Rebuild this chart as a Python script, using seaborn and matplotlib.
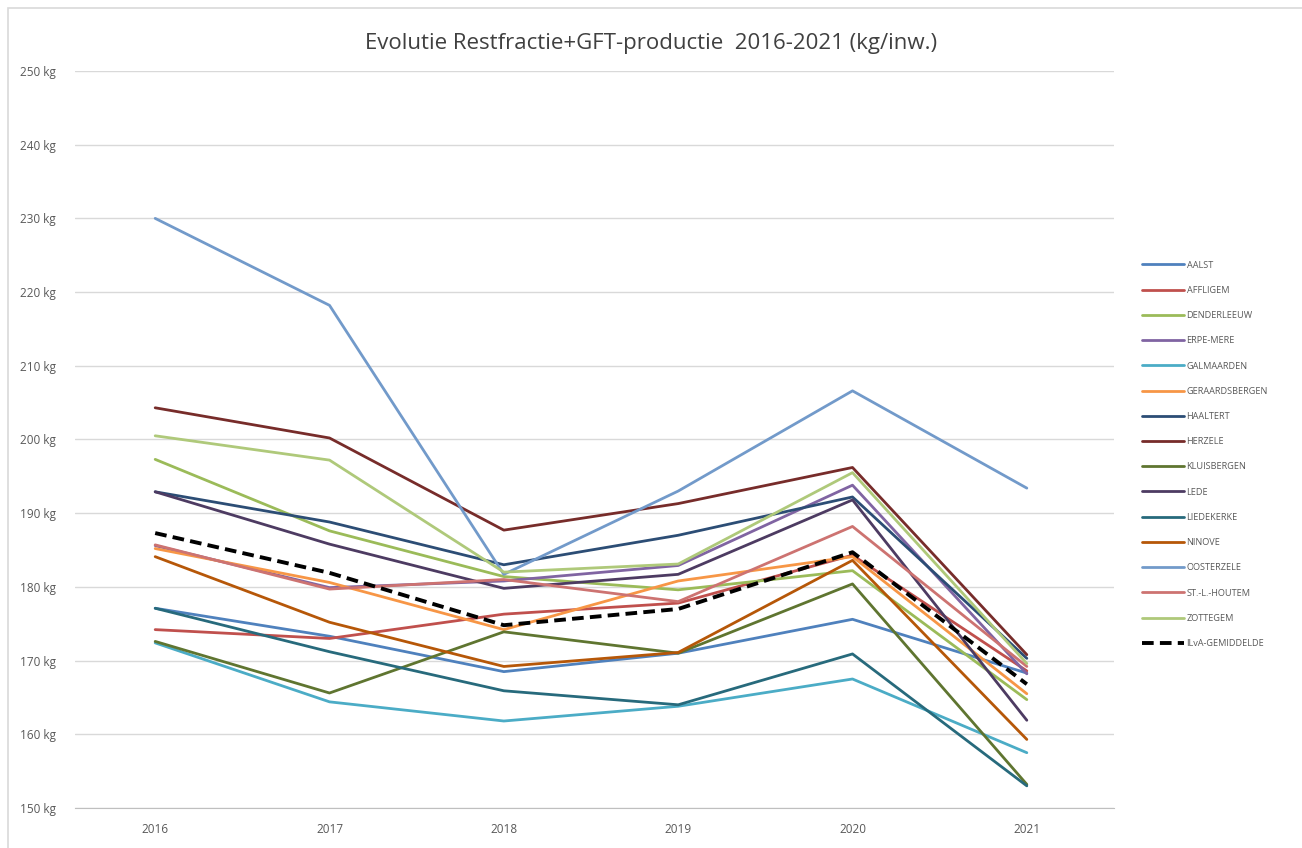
import numpy as np
import pandas as pd
import matplotlib
matplotlib.use("Agg")
import matplotlib.pyplot as plt
import seaborn as sns

sns.set_style("white")
plt.rcParams['font.family'] = ['Open Sans', 'DejaVu Sans']

years = ["2016", "2017", "2018", "2019", "2020", "2021"]

aalst = [177.1, 173.3, 168.5, 171.0, 175.6, 168.3]
affligem = [174.2, 173.0, 176.3, 177.8, 184.3, 168.6]
denderleeuw = [197.3, 187.6, 181.4, 179.6, 182.2, 164.7]
erpe_mere = [185.6, 179.9, 180.8, 182.9, 193.8, 168.2]
galmaarden = [172.4, 164.4, 161.8, 163.8, 167.5, 157.5]
geraardsbergen = [185.2, 180.6, 174.2, 180.8, 184.1, 165.5]
haaltert = [192.9, 188.8, 183.0, 187.0, 192.2, 170.3]
herzele = [204.3, 200.2, 187.7, 191.3, 196.2, 170.8]
kluisbergen = [172.6, 165.6, 173.9, 171.0, 180.4, 153.2]
lede = [192.9, 185.8, 179.8, 181.7, 191.8, 161.9]
liedekerke = [177.1, 171.2, 165.9, 164.0, 170.9, 153.0]
ninove = [184.1, 175.2, 169.2, 171.1, 183.6, 159.3]
oosterzele = [230.0, 218.2, 181.7, 193.0, 206.6, 193.4]
st_l_houtem = [185.7, 179.7, 181.0, 178.0, 188.2, 169.2]
zottegem = [200.5, 197.2, 182.0, 183.1, 195.5, 169.6]
ilva = [187.3, 181.9, 174.8, 177.0, 184.7, 166.8]

names = ["AALST", "AFFLIGEM", "DENDERLEEUW", "ERPE-MERE", "GALMAARDEN",
         "GERAARDSBERGEN", "HAALTERT", "HERZELE", "KLUISBERGEN", "LEDE",
         "LIEDEKERKE", "NINOVE", "OOSTERZELE", "ST.-L.-HOUTEM", "ZOTTEGEM",
         "ILvA-GEMIDDELDE"]
series = [aalst, affligem, denderleeuw, erpe_mere, galmaarden, geraardsbergen,
          haaltert, herzele, kluisbergen, lede, liedekerke, ninove, oosterzele,
          st_l_houtem, zottegem, ilva]
colors = ["#4F81BD", "#C0504D", "#9BBB59", "#8064A2", "#4BACC6", "#F79646",
          "#2C4D75", "#772C2A", "#5F7530", "#4D3B62", "#276A7C", "#B65708",
          "#729ACA", "#CD7371", "#AFC97A", "#000000"]

rows = []
for n, vals in zip(names, series):
    for i, v in enumerate(vals):
        rows.append({"gemeente": n, "x": i, "kg": v})
df = pd.DataFrame(rows)

palette = dict(zip(names, colors))
dashes = {n: "" for n in names}
dashes["ILvA-GEMIDDELDE"] = (3, 1.6)

fig = plt.figure(figsize=(13.02, 8.48), dpi=100)
ax = fig.add_axes([0.0576, 0.0472, 0.7980, 0.8691])

sns.lineplot(data=df, x="x", y="kg", hue="gemeente", style="gemeente",
             palette=palette, dashes=dashes, hue_order=names, style_order=names,
             linewidth=2.0, sort=False, ax=ax, legend=False)

# dashed average a bit thicker and on top
ax.get_lines()[-1].set_linewidth(2.8)
ax.get_lines()[-1].set_zorder(5)

ax.set_xlim(-0.46, 5.5)
ax.set_ylim(150, 250)
ax.set_xticks(range(len(years)))
ax.set_xticklabels(years)
ax.set_yticks(np.arange(150, 251, 10))
ax.set_yticklabels([f"{v} kg" for v in range(150, 251, 10)])
ax.tick_params(axis="both", labelsize=8.5, colors="#595959", length=0)
ax.tick_params(axis="y", pad=14)
ax.tick_params(axis="x", pad=11)
ax.set_xlabel("")
ax.set_ylabel("")
ax.grid(axis="y", color="#d9d9d9", linewidth=1)
ax.grid(axis="x", visible=False)
for s in ["top", "right", "left"]:
    ax.spines[s].set_visible(False)
ax.spines["bottom"].set_color("#bfbfbf")

fig.text(0.5, 0.949, "Evolutie Restfractie+GFT-productie  2016-2021 (kg/inw.)",
         ha="center", va="center", fontsize=16, color="#404040")

handles = []
for n, c in zip(names, colors):
    if n == "ILvA-GEMIDDELDE":
        h = plt.Line2D([], [], color=c, linewidth=2.8, linestyle=(0, (3, 1.6)))
    else:
        h = plt.Line2D([], [], color=c, linewidth=2.0)
    handles.append(h)
leg = fig.legend(handles, names, loc="upper left", bbox_to_anchor=(0.874, 0.697),
                 frameon=False, fontsize=6.6, labelspacing=1.77, handlelength=4.6,
                 handletextpad=0.3, borderaxespad=0)
for t in leg.get_texts():
    t.set_color("#595959")

fig.patches.append(plt.Rectangle((0.006, -0.01), 1.2, 1.0, transform=fig.transFigure,
                                 fill=False, edgecolor="#d9d9d9", linewidth=1.2))

fig.savefig("out.png", dpi=100)
